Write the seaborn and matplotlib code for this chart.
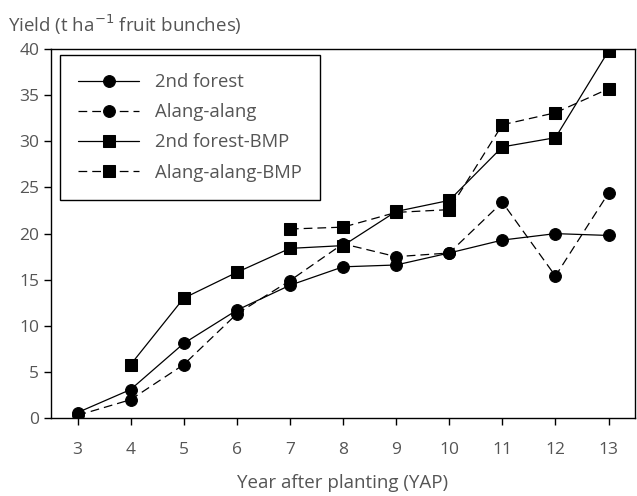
import numpy as np
import pandas as pd
import seaborn as sns
import matplotlib.pyplot as plt

years = [3, 4, 5, 6, 7, 8, 9, 10, 11, 12, 13]
forest2 = [0.6, 3.1, 8.1, 11.7, 14.4, 16.4, 16.6, 17.9, 19.3, 20.0, 19.8]
alang = [0.3, 2.0, 5.8, 11.3, 14.9, 18.9, 17.5, 17.9, 23.4, 15.4, 24.4]
forest2_bmp = [np.nan, 5.8, 13.0, 15.8, 18.4, 18.7, 22.4, 23.6, 29.4, 30.4, 39.8]
alang_bmp = [np.nan, np.nan, np.nan, np.nan, 20.5, 20.7, 22.3, 22.6, 31.8, 33.1, 35.7]

series = [
    ("2nd forest", forest2, "o", "-"),
    ("Alang-alang", alang, "o", (0, (7, 4))),
    ("2nd forest-BMP", forest2_bmp, "s", "-"),
    ("Alang-alang-BMP", alang_bmp, "s", (0, (7, 4))),
]

sns.set_style("ticks")
plt.rcParams['font.family'] = ['Open Sans', 'DejaVu Sans']
text_col = '#555555'

fig = plt.figure(figsize=(6.37, 4.96), dpi=100)
ax = fig.add_axes([0.080, 0.157, 0.917, 0.744])

for name, vals, mk, ls in series:
    df = pd.DataFrame({"year": years, "yield": vals}).dropna()
    sns.lineplot(data=df, x="year", y="yield", ax=ax, color='black', marker=mk,
                 markersize=9 if mk == 's' else 8.5, markeredgecolor='black',
                 linewidth=0.9, linestyle=ls, label=name)

ax.set_xlim(2.5, 13.5)
ax.set_ylim(0, 40)
ax.set_xticks(years)
ax.set_yticks(range(0, 41, 5))
for s in ax.spines.values():
    s.set_visible(True)
    s.set_linewidth(1.0)
    s.set_color('black')
ax.tick_params(direction='out', length=5, width=1, colors='black',
               labelcolor=text_col, labelsize=12.5)
ax.tick_params(axis='x', pad=12)

ax.set_xlabel("Year after planting (YAP)", color=text_col, fontsize=13.5, labelpad=12)
ax.set_ylabel("")
fig.text(0.012, 0.95, r"Yield (t ha$^{-1}$ fruit bunches)", color=text_col,
         fontsize=13.5, ha='left', va='center')

leg = ax.legend(loc='upper left', bbox_to_anchor=(0.015, 0.985), borderaxespad=0,
                fancybox=False, edgecolor='black', framealpha=1, fontsize=13.3,
                handlelength=3.3, handletextpad=0.85, labelspacing=0.66,
                borderpad=1.0)
leg.get_frame().set_linewidth(1.0)
for t in leg.get_texts():
    t.set_color(text_col)

fig.savefig("out.png", dpi=100)
